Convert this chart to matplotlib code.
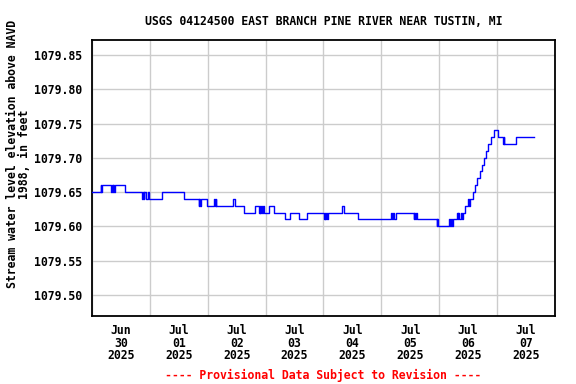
import numpy as np
import pandas as pd
import matplotlib
matplotlib.use("Agg")
import matplotlib.pyplot as plt
import matplotlib.dates as mdates

# gage height steps: hours after 2025-06-30 00:00, level in feet
hours = [0.0, 3.6, 3.8, 4.1, 8.0, 8.3, 8.6, 8.9, 9.2, 9.4, 13.6,
         20.9, 21.1, 21.5, 21.7, 22.3, 23.4, 23.8, 29.2, 38.0,
         44.2, 44.5, 44.8, 45.1, 47.9, 50.7, 51.0, 51.3, 51.6, 58.4, 59.1,
         63.1, 67.4, 69.2, 69.5, 69.8, 70.2, 70.6, 71.0, 71.4, 73.2, 75.3,
         80.1, 82.0, 85.7, 89.2, 96.1, 96.5, 96.8, 97.2, 97.6, 98.0,
         103.8, 104.6, 110.2, 124.2, 124.6, 124.9, 125.2, 126.0,
         133.4, 133.7, 134.0, 134.3, 134.6, 142.9, 143.2, 143.5,
         148.0, 148.4, 148.8, 149.2, 149.6, 151.2, 151.6, 151.8, 152.1,
         153.1, 153.4, 153.9, 154.5, 155.9, 156.3, 156.6, 158.1, 158.8,
         159.5, 161.1, 161.8, 162.5, 163.2, 164.2, 165.3, 166.9, 168.3,
         170.4, 170.7, 171.0, 175.7, 183.5]
levels = [1079.65, 1079.66, 1079.65, 1079.66, 1079.65, 1079.66, 1079.65, 1079.66, 1079.65, 1079.66, 1079.65,
          1079.64, 1079.65, 1079.64, 1079.65, 1079.64, 1079.65, 1079.64, 1079.65, 1079.64,
          1079.63, 1079.64, 1079.63, 1079.64, 1079.63, 1079.64, 1079.63, 1079.64, 1079.63, 1079.64, 1079.63,
          1079.62, 1079.63, 1079.62, 1079.63, 1079.62, 1079.63, 1079.62, 1079.63, 1079.62, 1079.63, 1079.62,
          1079.61, 1079.62, 1079.61, 1079.62, 1079.61, 1079.62, 1079.61, 1079.62, 1079.61, 1079.62,
          1079.63, 1079.62, 1079.61, 1079.62, 1079.61, 1079.62, 1079.61, 1079.62,
          1079.61, 1079.62, 1079.61, 1079.62, 1079.61, 1079.60, 1079.61, 1079.60,
          1079.61, 1079.60, 1079.61, 1079.60, 1079.61, 1079.62, 1079.61, 1079.62, 1079.61,
          1079.62, 1079.61, 1079.62, 1079.63, 1079.64, 1079.63, 1079.64, 1079.65, 1079.66,
          1079.67, 1079.68, 1079.69, 1079.70, 1079.71, 1079.72, 1079.73, 1079.74, 1079.73,
          1079.72, 1079.73, 1079.72, 1079.73, 1079.73]

yticks = [1079.50, 1079.55, 1079.60, 1079.65, 1079.70, 1079.75, 1079.80, 1079.85]
start = pd.Timestamp("2025-06-30 00:00")
end = pd.Timestamp("2025-07-08 00:00")

font = "DejaVu Sans Mono"
fs = 8.3

t = start + pd.to_timedelta(hours, unit="h")

fig = plt.figure(figsize=(5.76, 3.84), dpi=100)
ax = fig.add_axes([0.1597, 0.1771, 0.8038, 0.7187])

ax.step(t, levels, where="post", color="#0000ff", lw=1.0, zorder=3)

ax.set_xlim(start, end)
ax.set_ylim(1079.469, 1079.872)
ax.set_yticks(yticks)
ax.set_yticklabels(["%.2f" % v for v in yticks], family=font, fontweight="bold", fontsize=fs)

ax.xaxis.set_major_locator(mdates.HourLocator(byhour=12))
ax.xaxis.set_major_formatter(mdates.DateFormatter("%b\n%d\n%Y"))
ax.xaxis.set_minor_locator(mdates.DayLocator())
fig.canvas.draw()
for lab in ax.get_xticklabels():
    lab.set_family(font)
    lab.set_fontweight("bold")
    lab.set_fontsize(fs)
    lab.set_linespacing(0.95)
ax.tick_params(axis="x", which="both", length=0, pad=6)
ax.tick_params(axis="y", length=0, pad=7)

ax.grid(which="minor", axis="x", color="#cccccc", lw=1.0)
ax.grid(which="major", axis="y", color="#cccccc", lw=1.0)
ax.set_axisbelow(True)
for s in ax.spines.values():
    s.set_linewidth(1.3)

ax.set_ylabel("Stream water level elevation above NAVD\n1988, in feet",
              family=font, fontweight="bold", fontsize=fs, linespacing=0.95)
ax.yaxis.set_label_coords(-0.131, 0.587)
ax.set_title("USGS 04124500 EAST BRANCH PINE RIVER NEAR TUSTIN, MI",
             family=font, fontweight="bold", fontsize=fs, pad=11)
fig.text(0.561, 0.012, "---- Provisional Data Subject to Revision ----",
         color="red", family=font, fontweight="bold", fontsize=fs, ha="center")

fig.savefig("out.png", dpi=100)
